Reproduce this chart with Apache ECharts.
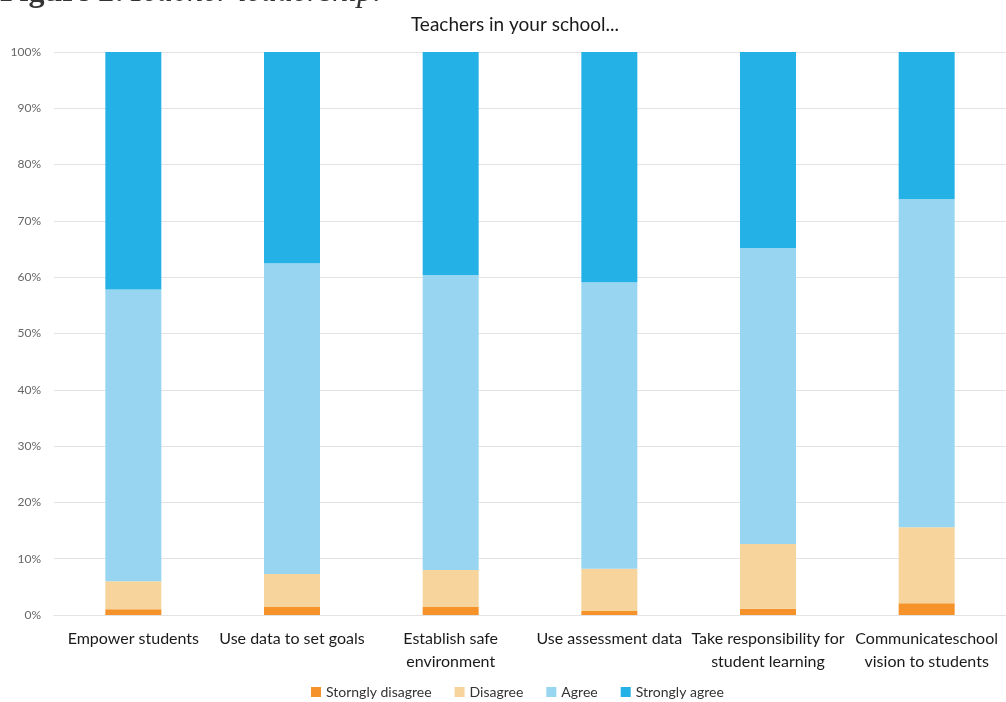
<!DOCTYPE html>
<html>
<head>
<meta charset="utf-8">
<script src="https://cdn.jsdelivr.net/npm/echarts@6/dist/echarts.min.js"></script>
<style>
html,body{margin:0;padding:0;background:#fff;}
#chart{width:1006px;height:702px;}
</style>
</head>
<body>
<div id="chart"></div>
<script>
// Survey items (x-axis categories)
const categories = [
  'Empower students',
  'Use data to set goals',
  'Establish safe\nenvironment',
  'Use assessment data',
  'Take responsibility for\nstudent learning',
  'Communicateschool\nvision to students'
];

// Share of responses per item, in percent
const stronglyDisagree = [1.0, 1.4, 1.4, 0.7, 1.1, 2.1];
const disagree         = [5.0, 5.9, 6.6, 7.5, 11.5, 13.5];
const agree            = [51.8, 55.2, 52.4, 50.9, 52.6, 58.3];
const stronglyAgree    = [42.2, 37.5, 39.6, 40.9, 34.8, 26.1];

const seriesNames = ['Storngly disagree', 'Disagree', 'Agree', 'Strongly agree'];
const seriesColors = ['#F5922A', '#F8D49D', '#97D5F0', '#23B1E6'];
const seriesData = [stronglyDisagree, disagree, agree, stronglyAgree];

const font = 'Lato, "Open Sans", sans-serif';

const chart = echarts.init(document.getElementById('chart'));
chart.setOption({
  animation: false,
  title: {
    text: 'Teachers in your school...',
    left: 510,
    textAlign: 'center',
    top: 10,
    textStyle: { fontFamily: font, fontSize: 19, fontWeight: 'normal', color: '#1a1a1a' }
  },
  graphic: [{
    type: 'text',
    left: 0,
    top: -23,
    style: {
      text: '{b|Figure 2:} {i|Teacher leadership.}',
      rich: {
        b: { fontFamily: '"Liberation Serif", serif', fontSize: 32, fontWeight: 'bold', fill: '#333' },
        i: { fontFamily: '"Liberation Serif", serif', fontSize: 32, fontStyle: 'italic', fill: '#333' }
      }
    }
  }],
  legend: {
    bottom: -2,
    left: 306,
    itemWidth: 10,
    itemHeight: 10,
    itemGap: 23,
    icon: 'rect',
    textStyle: { fontFamily: font, fontSize: 14, color: '#333' },
    data: seriesNames
  },
  grid: { left: 54, right: 0, top: 52, bottom: 87 },
  xAxis: {
    type: 'category',
    data: categories,
    axisLine: { show: true, lineStyle: { color: '#e3e3e3' } },
    axisTick: { show: false },
    axisLabel: {
      interval: 0,
      fontFamily: font,
      fontSize: 16,
      color: '#1a1a1a',
      lineHeight: 23,
      margin: 12
    }
  },
  yAxis: {
    type: 'value',
    min: 0,
    max: 100,
    interval: 10,
    axisLine: { show: false },
    axisTick: { show: false },
    splitLine: { lineStyle: { color: '#e3e3e3' } },
    axisLabel: {
      formatter: '{value}%',
      fontFamily: font,
      fontSize: 12,
      color: '#666',
      margin: 13
    }
  },
  series: seriesNames.map((name, i) => ({
    name: name,
    type: 'bar',
    stack: 'total',
    barWidth: 56,
    itemStyle: { color: seriesColors[i] },
    data: seriesData[i]
  }))
});
</script>
</body>
</html>
